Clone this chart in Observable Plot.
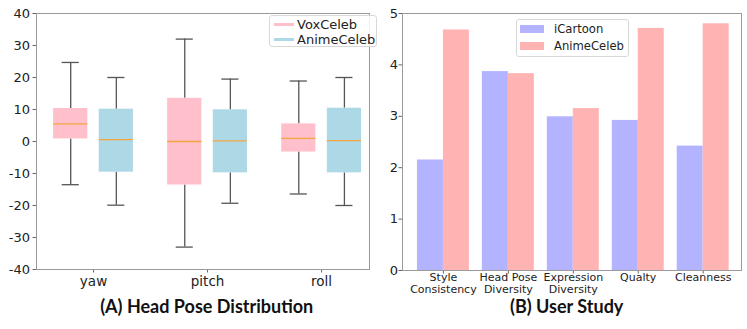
<!DOCTYPE html>
<html><head><meta charset="utf-8">
<script src="https://cdn.jsdelivr.net/npm/d3@7"></script>
<script src="https://cdn.jsdelivr.net/npm/@observablehq/plot@0.6"></script>
<style>
body{margin:0;background:#fff;}
#wrap{position:relative;width:747px;height:329px;overflow:hidden;background:#fff;font-family:"DejaVu Sans",sans-serif;}
#wrap svg{position:absolute;top:0;overflow:visible;}
.title{position:absolute;font-family:Lato,sans-serif;font-weight:bold;font-size:18px;line-height:14px;white-space:nowrap;transform:translateX(-50%);color:#111;}
.legend{position:absolute;background:rgba(255,255,255,0.85);border:1px solid #d8d8d8;border-radius:3px;box-sizing:border-box;z-index:5;}
.row{position:absolute;display:flex;align-items:center;white-space:nowrap;color:#222;}
.sw{display:inline-block;}
</style></head>
<body>
<div id="wrap"></div>
<script>
// ---------- (A) Head Pose Distribution ----------
const poseAxes = ["yaw", "pitch", "roll"];
const poseSeries = ["VoxCeleb", "AnimeCeleb"];
const poseColors = ["#ffc0cb", "#add8e6"];
// whisker low, Q1, median, Q3, whisker high
const voxLow  = [-13.5, -33.0, -16.4];
const voxQ1   = [0.8, -13.6, -3.3];
const voxMed  = [5.5, 0.0, 1.0];
const voxQ3   = [10.3, 13.5, 5.5];
const voxHigh = [24.7, 32.0, 18.9];
const animeLow  = [-19.9, -19.3, -20.0];
const animeQ1   = [-9.6, -9.8, -9.8];
const animeMed  = [0.6, 0.2, 0.3];
const animeQ3   = [10.1, 9.9, 10.4];
const animeHigh = [20.0, 19.5, 20.0];
const poseTicks = [-40, -30, -20, -10, 0, 10, 20, 30, 40];

// ---------- (B) User Study ----------
const studyCriteria = ["Style\nConsistency", "Head Pose\nDiversity", "Expression\nDiversity", "Qualty", "Cleanness"];
const studySeries = ["iCartoon", "AnimeCeleb"];
const studyColors = ["#b3b3ff", "#ffb3b3"];
const iCartoonScores = [2.15, 3.87, 2.99, 2.92, 2.42];
const animeCelebScores = [4.68, 3.83, 3.15, 4.71, 4.80];
const studyTicks = [0, 1, 2, 3, 4, 5];

const boxes = [];
poseAxes.forEach((a, i) => {
  boxes.push({series: poseSeries[0], pos: i - 0.2, lo: voxLow[i], q1: voxQ1[i], med: voxMed[i], q3: voxQ3[i], hi: voxHigh[i]});
  boxes.push({series: poseSeries[1], pos: i + 0.2, lo: animeLow[i], q1: animeQ1[i], med: animeMed[i], q3: animeQ3[i], hi: animeHigh[i]});
});
const bars = [];
studyCriteria.forEach((c, i) => {
  bars.push({series: studySeries[0], pos: i - 0.2, value: iCartoonScores[i]});
  bars.push({series: studySeries[1], pos: i + 0.2, value: animeCelebScores[i]});
});

const BW = 0.15, CW = 0.075, BAR = 0.2;
const whisk = {stroke: "#555", strokeWidth: 1.3};
const frameColor = "#9a9a9a";

const left = Plot.plot({
  width: 372, height: 300,
  marginLeft: 36, marginRight: 3, marginTop: 13, marginBottom: 31,
  style: {fontFamily: "DejaVu Sans", fontSize: "13px", color: "#222", background: "transparent"},
  x: {type: "linear", domain: [-0.5, 2.42]},
  y: {domain: [-40, 40]},
  color: {domain: poseSeries, range: poseColors},
  marks: [
    Plot.ruleX(boxes, {x: "pos", y1: "q3", y2: "hi", ...whisk}),
    Plot.ruleX(boxes, {x: "pos", y1: "lo", y2: "q1", ...whisk}),
    Plot.ruleY(boxes, {y: "hi", x1: d => d.pos - CW, x2: d => d.pos + CW, ...whisk}),
    Plot.ruleY(boxes, {y: "lo", x1: d => d.pos - CW, x2: d => d.pos + CW, ...whisk}),
    Plot.rect(boxes, {x1: d => d.pos - BW, x2: d => d.pos + BW, y1: "q1", y2: "q3", fill: "series"}),
    Plot.ruleY(boxes, {y: "med", x1: d => d.pos - BW, x2: d => d.pos + BW, stroke: "#f5a540", strokeWidth: 1.3}),
    Plot.axisY({ticks: poseTicks, tickFormat: d => String(d), tickSize: 3.5, tickPadding: 3, fontSize: 13, label: null, stroke: "#666"}),
    Plot.axisX({ticks: [0, 1, 2], tickFormat: i => poseAxes[i], tickSize: 3.5, tickPadding: 3, fontSize: 13.5, label: null, stroke: "#666"}),
    Plot.frame({stroke: frameColor})
  ]
});

const right = Plot.plot({
  width: 375, height: 300,
  marginLeft: 30, marginRight: 6, marginTop: 13, marginBottom: 30,
  style: {fontFamily: "DejaVu Sans", fontSize: "13px", color: "#222", background: "transparent"},
  x: {type: "linear", domain: [-0.63, 4.59]},
  y: {domain: [0, 5]},
  color: {domain: studySeries, range: studyColors},
  marks: [
    Plot.rect(bars, {x1: d => d.pos - BAR, x2: d => d.pos + BAR, y1: 0, y2: "value", fill: "series"}),
    Plot.axisY({ticks: studyTicks, tickFormat: d => String(d), tickSize: 3.5, tickPadding: 1, fontSize: 13, label: null, stroke: "#666"}),
    Plot.axisX({ticks: [0, 1, 2, 3, 4], tickFormat: i => studyCriteria[i], tickSize: 3.5, tickPadding: -1, fontSize: 11, lineHeight: 1.04, label: null, stroke: "#666"}),
    Plot.frame({stroke: frameColor})
  ]
});

const wrap = document.getElementById("wrap");
left.style.left = "0px";
right.style.left = "372px";
wrap.appendChild(left);
wrap.appendChild(right);

function addTitle(text, cx, top) {
  const t = document.createElement("div");
  t.className = "title";
  t.textContent = text;
  t.style.left = cx + "px";
  t.style.top = top + "px";
  wrap.appendChild(t);
}
addTitle("(A) Head Pose Distribution", 206.7, 298.5);
addTitle("(B) User Study", 566.7, 298.5);

function addLegend(box, items, colors, opt) {
  const lg = document.createElement("div");
  lg.className = "legend";
  Object.assign(lg.style, {left: box[0] + "px", top: box[1] + "px", width: box[2] + "px", height: box[3] + "px"});
  wrap.appendChild(lg);
  items.forEach((name, i) => {
    const row = document.createElement("div");
    row.className = "row";
    const cy = opt.rows[i];
    Object.assign(row.style, {left: opt.swX + "px", top: (cy - 9) + "px", height: "18px", zIndex: 6, fontSize: opt.fontSize + "px"});
    const sw = document.createElement("span");
    sw.className = "sw";
    Object.assign(sw.style, {width: opt.swW + "px", height: opt.swH + "px", background: colors[i], marginRight: opt.gap + "px"});
    const tx = document.createElement("span");
    tx.textContent = name;
    row.appendChild(sw);
    row.appendChild(tx);
    wrap.appendChild(row);
  });
}
addLegend([269, 15, 108, 32], poseSeries, poseColors, {swX: 273.5, rows: [24, 39.3], swW: 20, swH: 3, gap: 3.5, fontSize: 13});
addLegend([515.7, 19, 113.3, 37.7], studySeries, studyColors, {swX: 520, rows: [29.2, 46.3], swW: 24, swH: 8.3, gap: 10, fontSize: 11.6});
</script>
</body></html>
